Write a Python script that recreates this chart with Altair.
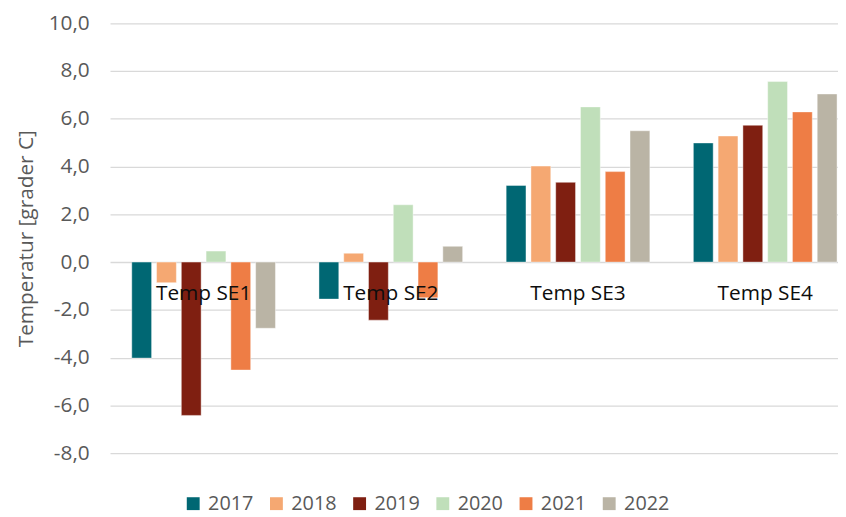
import altair as alt
import pandas as pd

categories = ["Temp SE1", "Temp SE2", "Temp SE3", "Temp SE4"]
years = ["2017", "2018", "2019", "2020", "2021", "2022"]
v2017 = [-4.02, -1.55, 3.21, 4.99]
v2018 = [-0.86, 0.37, 4.02, 5.28]
v2019 = [-6.42, -2.43, 3.34, 5.73]
v2020 = [0.46, 2.40, 6.50, 7.56]
v2021 = [-4.52, -1.49, 3.79, 6.29]
v2022 = [-2.77, 0.66, 5.50, 7.04]
colors = ["#006773", "#F5A872", "#7F1F11", "#C0DFBA", "#EE7D45", "#BAB4A5"]
y_ticks = [-8, -6, -4, -2, 0, 2, 4, 6, 8, 10]

series = [v2017, v2018, v2019, v2020, v2021, v2022]
rows = []
for yr, vals in zip(years, series):
    for c, v in zip(categories, vals):
        rows.append({"cat": c, "year": yr, "value": v})
df = pd.DataFrame(rows)
lab = pd.DataFrame({"cat": categories, "value": [0] * len(categories)})

FONT = "Open Sans"
GRAY = "#595959"

xscale = alt.Scale(domain=categories, range=[0, 756], paddingInner=0.206, paddingOuter=0.103)

bars = alt.Chart(df).mark_bar(clip=True, stroke="white", strokeWidth=0.7, strokeOpacity=0.6).encode(
    x=alt.X("cat:N", scale=xscale, axis=None, sort=categories),
    xOffset=alt.XOffset("year:N", scale=alt.Scale(paddingInner=0.2, paddingOuter=0.1), sort=years),
    y=alt.Y("value:Q",
            scale=alt.Scale(domain=[-8, 10], nice=False, zero=False),
            axis=alt.Axis(values=y_ticks, title="Temperatur [grader C]",
                          labelExpr="replace(replace(format(datum.value, '.1f'), '.', ','), '\u2212', '-')",
                          domain=False, ticks=False, grid=True, gridColor="#D9D9D9", gridWidth=1.3,
                          labelFont=FONT, labelFontSize=21, labelColor=GRAY, labelPadding=21,
                          titleFont=FONT, titleFontSize=21, titleColor=GRAY, titleFontWeight="normal",
                          titlePadding=12)),
    color=alt.Color("year:N", scale=alt.Scale(domain=years, range=colors),
                    legend=alt.Legend(title=None, orient="none", direction="horizontal",
                                      legendX=74, legendY=475, symbolType="square",
                                      symbolSize=169, symbolStrokeWidth=0, labelFont=FONT,
                                      labelFontSize=20, labelColor=GRAY, labelOffset=5,
                                      columnPadding=13, padding=0)),
)

text = alt.Chart(lab).mark_text(clip=True, font=FONT, fontSize=21, color="#0D0D0D",
                                baseline="alphabetic", dy=38).encode(
    x=alt.X("cat:N", scale=xscale, axis=None, sort=categories),
    y=alt.Y("value:Q"),
    text="cat:N",
)

chart = alt.layer(bars, text).properties(
    width=735, height=434,
    padding={"left": 103, "top": 13, "right": 0, "bottom": 60},
    autosize="none",
).configure_view(stroke=None)

chart.save("out.html", embed_options={"renderer": "svg", "actions": False})
